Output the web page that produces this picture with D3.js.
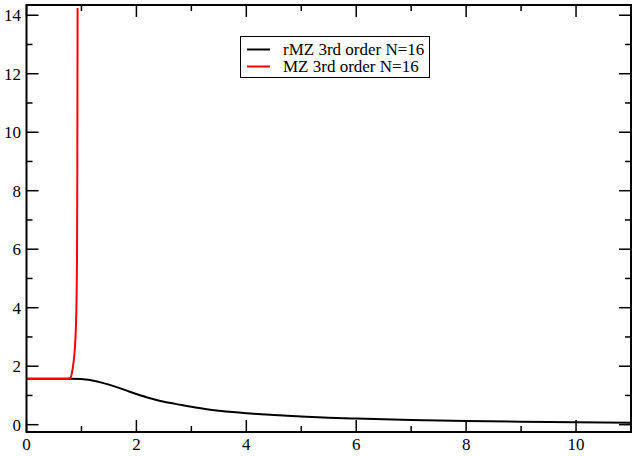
<!DOCTYPE html>
<html>
<head>
<meta charset="utf-8">
<script src="https://cdn.jsdelivr.net/npm/d3@7"></script>
<style>
body{margin:0;background:#fff;}
</style>
</head>
<body>
<svg id="chart" width="632" height="456"></svg>
<script>
// rMZ 3rd order N=16
var rmzX = [0, 0.5, 0.8, 1.0, 1.2, 1.4, 1.6, 1.8, 2.0, 2.2, 2.4, 2.6, 2.8, 3.0, 3.25, 3.5, 3.75, 4.0, 4.5, 5.0, 5.5, 6.0, 7, 8, 9, 10, 11];
var rmzY = [1.571, 1.571, 1.571, 1.565, 1.51, 1.42, 1.31, 1.18, 1.05, 0.93, 0.83, 0.75, 0.68, 0.61, 0.54, 0.48, 0.43, 0.39, 0.33, 0.28, 0.24, 0.21, 0.16, 0.125, 0.10, 0.08, 0.065];
// MZ 3rd order N=16
var mzX = [0, 0.5, 0.75, 0.8, 0.83, 0.86, 0.88, 0.9, 0.91, 0.92, 0.925, 0.93];
var mzY = [1.571, 1.571, 1.572, 1.6, 1.8, 2.2, 2.6, 3.4, 4.2, 6.0, 9.0, 14.25];

var seriesNames = ["rMZ 3rd order N=16", "MZ 3rd order N=16"];
var seriesColors = ["#000000", "#ff0000"];
var xTicks = [0, 2, 4, 6, 8, 10];
var yTicks = [0, 2, 4, 6, 8, 10, 12, 14];
var xMinor = [1, 3, 5, 7, 9, 11];
var yMinor = [1, 3, 5, 7, 9, 11, 13];

var plotL = 26.5, plotR = 631, plotT = 5, plotB = 432;
var fontName = "'Liberation Serif', 'Times New Roman', serif";
var x = d3.scaleLinear().domain([0, 11]).range([plotL, plotR]);
var y = d3.scaleLinear().domain([-0.25, 14.35]).range([plotB, plotT]);

var svg = d3.select("#chart");

svg.append("clipPath").attr("id","clip").append("rect")
	.attr("x",plotL).attr("y",plotT).attr("width",plotR-plotL).attr("height",plotB-plotT);

function drawTicks(g, vals, len, onX)
{
	// ticks point inward on all four sides
	vals.forEach(function(v){
		if(onX)
		{
			g.append("line").attr("x1",x(v)).attr("x2",x(v)).attr("y1",plotB).attr("y2",plotB-len);
			g.append("line").attr("x1",x(v)).attr("x2",x(v)).attr("y1",plotT).attr("y2",plotT+len);
		}
		else
		{
			g.append("line").attr("x1",plotL).attr("x2",plotL+len).attr("y1",y(v)).attr("y2",y(v));
			g.append("line").attr("x1",plotR).attr("x2",plotR-len).attr("y1",y(v)).attr("y2",y(v));
		}
	});
}

var ticks = svg.append("g").attr("stroke","#000").attr("stroke-width",1.5);
drawTicks(ticks, xTicks, 12, true);
drawTicks(ticks, xMinor, 6, true);
drawTicks(ticks, yTicks, 12, false);
drawTicks(ticks, yMinor, 6, false);

var labels = svg.append("g").attr("font-family",fontName).attr("font-size",17).attr("fill","#000");
labels.selectAll("text.xl").data(xTicks).enter().append("text").attr("class","xl")
	.attr("x",function(d){return x(d);}).attr("y",450)
	.attr("text-anchor","middle").text(function(d){return d;});

labels.selectAll("text.yl").data(yTicks).enter().append("text").attr("class","yl")
	.attr("x",21).attr("y",function(d){return y(d)+6;})
	.attr("text-anchor","end").text(function(d){return d;});

var line = d3.line().x(function(d){return x(d[0]);}).y(function(d){return y(d[1]);}).curve(d3.curveMonotoneX);

var rmzData = d3.zip(rmzX, rmzY);
var mzData = d3.zip(mzX, mzY);

svg.append("path").datum(rmzData).attr("d",line).attr("clip-path","url(#clip)")
	.attr("fill","none").attr("stroke",seriesColors[0]).attr("stroke-width",2);
svg.append("path").datum(mzData).attr("d",line).attr("clip-path","url(#clip)")
	.attr("fill","none").attr("stroke",seriesColors[1]).attr("stroke-width",2);

svg.append("rect").attr("x",plotL).attr("y",plotT).attr("width",plotR-plotL).attr("height",plotB-plotT)
	.attr("fill","none").attr("stroke","#000").attr("stroke-width",2);

// legend
var legend = svg.append("g");
legend.append("rect").attr("x",240.5).attr("y",36.5).attr("width",189).attr("height",41)
	.attr("fill","#fff").attr("stroke","#000").attr("stroke-width",1);
seriesNames.forEach(function(name, i){
	var ly = 49.5 + i*17;
	legend.append("line").attr("x1",247).attr("x2",270).attr("y1",ly).attr("y2",ly)
		.attr("stroke",seriesColors[i]).attr("stroke-width",2);
	legend.append("text").attr("x",283).attr("y",ly+5)
		.attr("font-family",fontName).attr("font-size",17).attr("fill","#000").text(name);
});
</script>
</body>
</html>
